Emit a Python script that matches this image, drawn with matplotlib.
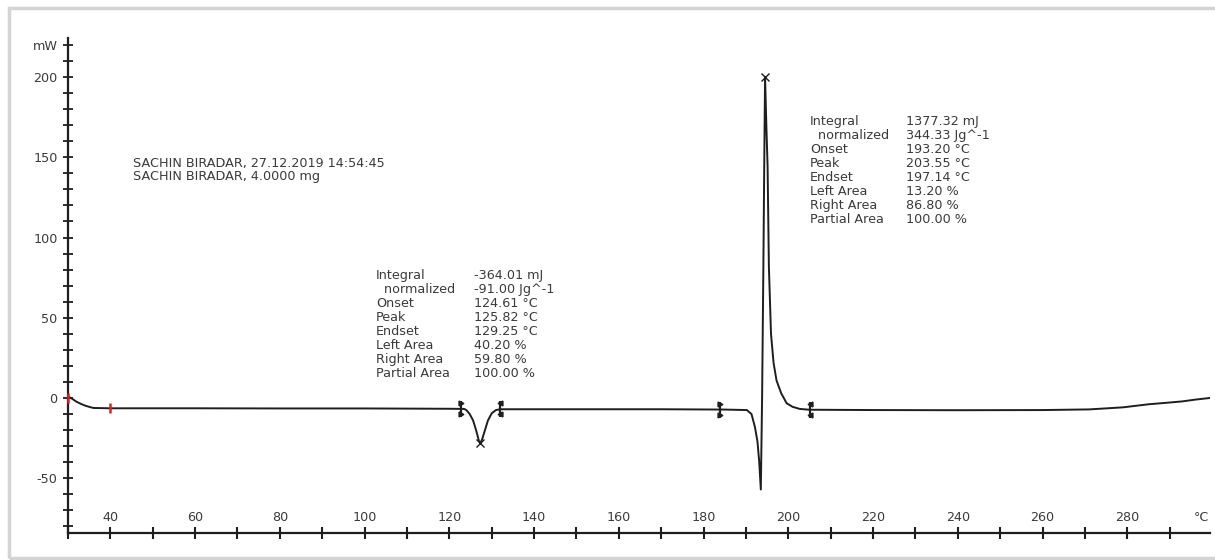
import matplotlib

matplotlib.use("Agg")
import matplotlib.pyplot as plt
from matplotlib.patches import Rectangle

# DSC curve (temperature in °C, heat flow in mW)
temp = [30, 31, 32, 33, 34, 35, 36, 40, 60, 80, 100, 120, 123.5, 124.0, 124.8,
        125.6, 126.3, 127.0, 127.3, 127.7, 128.4, 129.1, 130.0, 131.0, 132,
        150, 170, 185, 190.2, 191.3, 192.1, 192.7, 193.1, 193.5, 193.8, 194.1,
        194.3, 194.5, 194.8, 195.1, 195.4, 195.9, 196.5, 197.2, 198.3, 199.6,
        201, 202.7, 205, 220, 240, 260, 271, 279, 285, 290, 293, 296, 299.4]
heat = [1.0, -0.5, -2.3, -3.6, -4.7, -5.5, -6.2, -6.4, -6.4, -6.5, -6.5, -6.7,
        -6.8, -7.5, -10, -14, -20, -27, -28, -26, -20, -14, -9.5, -7.5, -7.0,
        -7.0, -7.0, -7.2, -7.5, -10, -18, -27, -39, -57, 0, 82, 144, 200, 170,
        144, 82, 40, 22, 11, 3, -3.3, -5.5, -6.8, -7.3, -7.5, -7.6, -7.5, -7.1,
        -5.8, -3.9, -2.8, -2.1, -1.0, 0.0]

limit_left = [122.7, 183.8]
limit_right = [131.9, 205.0]
limit_level = [-6.6, -7.3]
peak_t = [127.3, 194.5]
peak_h = [-28, 200]
red_t = [30, 40]
red_h = [0, -6.4]

xtick_labels = [40, 60, 80, 100, 120, 140, 160, 180, 200, 220, 240, 260, 280]

header = ["SACHIN BIRADAR, 27.12.2019 14:54:45", "SACHIN BIRADAR, 4.0000 mg"]
names = ["Integral", "  normalized", "Onset", "Peak", "Endset",
         "Left Area", "Right Area", "Partial Area"]
values_1 = ["-364.01 mJ", "-91.00 Jg^-1", "124.61 °C", "125.82 °C",
            "129.25 °C", "40.20 %", "59.80 %", "100.00 %"]
values_2 = ["1377.32 mJ", "344.33 Jg^-1", "193.20 °C", "203.55 °C",
            "197.14 °C", "13.20 %", "86.80 %", "100.00 %"]

ink = "#1e1e1e"
txt = "#3a3a3a"
fs = 9.2
W, H = 1215, 560

fig = plt.figure(figsize=(12.15, 5.6), dpi=100)
# light frame (top, left, bottom) of the original screenshot
fig.patches.append(Rectangle((9 / W, 2 / H), 1.05, 1 - 10 / H,
                             transform=fig.transFigure, fill=False,
                             edgecolor="#d4d4d4", linewidth=2.5))

ax = fig.add_axes([68 / W, (H - 533) / H, (1210 - 68) / W, (533 - 38) / H])
ax.set_xlim(30, 299.5)
ax.set_ylim(-84.1, 224.3)
for side in ("top", "right"):
    ax.spines[side].set_visible(False)
for side in ("left", "bottom"):
    ax.spines[side].set_color(ink)
    ax.spines[side].set_linewidth(1.6)

ax.plot(temp, heat, color=ink, linewidth=1.4)

# integration limits and peak markers
for lx, rx, lv in zip(limit_left, limit_right, limit_level):
    ax.plot([lx, rx], [lv, lv], linestyle="none", marker="|", markersize=11,
            markeredgewidth=1.6, color=ink)
    ax.plot([lx, lx], [lv + 3.5, lv - 3.5], linestyle="none", marker=">",
            markersize=3.5, color=ink)
    ax.plot([rx, rx], [lv + 3.5, lv - 3.5], linestyle="none", marker="<",
            markersize=3.5, color=ink)
ax.plot(peak_t, peak_h, linestyle="none", marker="x", markersize=6,
        markeredgewidth=1.0, color=ink)
ax.plot(red_t, red_h, linestyle="none", marker="|", markersize=7,
        markeredgewidth=1.8, color="#e02020", clip_on=False, zorder=5)

# y axis: ticks every 10, labels every 50, "mW" at the top tick
yt = list(range(-80, 221, 10))
ax.set_yticks(yt)
ax.set_yticklabels(["mW" if v == 220 else (str(v) if v % 50 == 0 else "")
                    for v in yt])
ax.tick_params(axis="y", direction="inout", length=7, width=1.3, color=ink,
               labelsize=fs, labelcolor=txt, pad=4)

# x axis: ticks every 10, labels drawn above the axis line
ax.set_xticks(range(30, 300, 10))
ax.set_xticklabels([])
ax.tick_params(axis="x", direction="inout", length=8, width=1.5, color=ink)
for t in xtick_labels:
    ax.text(t, 0.031, str(t), transform=ax.get_xaxis_transform(),
            ha="center", va="center", fontsize=fs, color=txt)
ax.text(297.5, 0.031, "°C", transform=ax.get_xaxis_transform(),
        ha="center", va="center", fontsize=fs, color=txt)

# header text (pixel positions of the reference)
for i, line in enumerate(header):
    fig.text(133 / W, 1 - (163 + 13.5 * i) / H, line, fontsize=fs,
             color=txt, va="center")

# result blocks
for x0, x1, y0, vals in [(376, 474, 276, values_1), (810, 906, 122, values_2)]:
    for i, (n, v) in enumerate(zip(names, vals)):
        y = 1 - (y0 + 13.9 * i) / H
        fig.text(x0 / W, y, n, fontsize=fs, color=txt, va="center")
        fig.text(x1 / W, y, v, fontsize=fs, color=txt, va="center")

fig.savefig("out.png", dpi=100)
